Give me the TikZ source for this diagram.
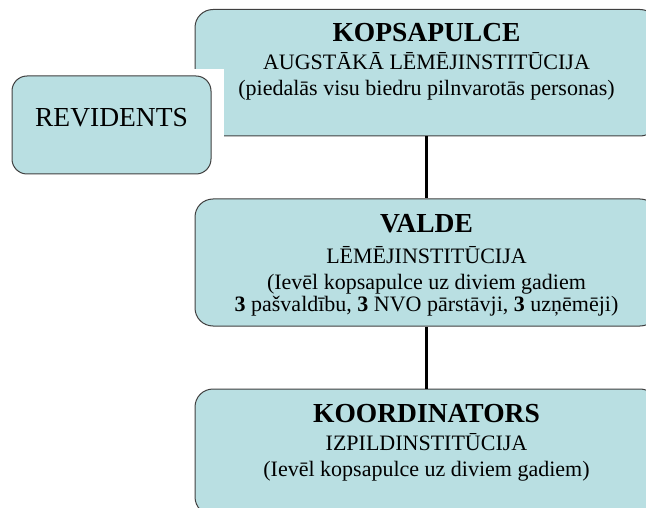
\documentclass[tikz,border=0pt]{standalone}
\usepackage{fontspec}
\setmainfont{LiberationSerif}[Extension=.ttf, UprightFont=*-Regular, BoldFont=*-Bold, ItalicFont=*-Italic, BoldItalicFont=*-BoldItalic]
\usetikzlibrary{positioning}
\definecolor{boxfill}{RGB}{185,223,226}
\definecolor{boxline}{RGB}{64,64,64}
\tikzset{
  orgbox/.style={draw=boxline, line width=1pt, fill=boxfill, rounded corners=18pt, inner sep=0pt},
  boxtitle/.style={anchor=base, font=\fontsize{27.5}{30}\selectfont\rmfamily\bfseries},
  boxsub/.style={anchor=base, font=\fontsize{22}{24}\selectfont\rmfamily},
  link/.style={line width=2.5pt}
}
\begin{document}
\begin{tikzpicture}
        [x=1pt,y=-1pt]
        \useasboundingbox (0,0) rectangle (646,508);
        \clip (0,0) rectangle (646,508);

        \node[orgbox, minimum width=463pt, minimum height=126.5pt] (kops) at (426.5,72.75) {};
        \fill[white] (185,69) rectangle (223.5,138);
        \node[orgbox, rounded corners=15pt, minimum width=199pt, minimum height=98pt] (rev) at (111.5,125) {};
        \node[orgbox, minimum width=463pt, minimum height=127pt] (valde) at (426.5,262.5) {};
        \node[orgbox, minimum width=463pt, minimum height=126pt] (koord) at (426.5,452) {};

        \draw[link] (kops.south) -- (valde.north);
        \draw[link] (valde.south) -- (koord.north);

        \node[anchor=base, font=\fontsize{27.5}{30}\selectfont\rmfamily] (revT) at (111.5,127) {REVIDENTS};

        \node[boxtitle] (kopsT) at (426.5,42) {KOPSAPULCE};
        \node[boxsub] (kopsS) at (426.5,70) {AUGSTĀKĀ LĒMĒJINSTITŪCIJA};
        \node[boxsub] (kopsN) at (426.5,96) {(piedalās visu biedru pilnvarotās personas)};

        \node[boxtitle] (valdeT) at (426.5,233) {VALDE};
        \node[boxsub] (valdeS) at (426.5,263) {LĒMĒJINSTITŪCIJA};
        \node[boxsub] (valdeN) at (426.5,289) {(Ievēl kopsapulce uz diviem gadiem};
        \node[boxsub] (valdeM) at (426.5,311) {\textbf{3} pašvaldību, \textbf{3} NVO pārstāvji, \textbf{3} uzņēmēji)};

        \node[boxtitle] (koordT) at (426.5,422) {KOORDINATORS};
        \node[boxsub] (koordS) at (426.5,450) {IZPILDINSTITŪCIJA};
        \node[boxsub] (koordN) at (426.5,476) {(Ievēl kopsapulce uz diviem gadiem)};
      \end{tikzpicture}
\end{document}
